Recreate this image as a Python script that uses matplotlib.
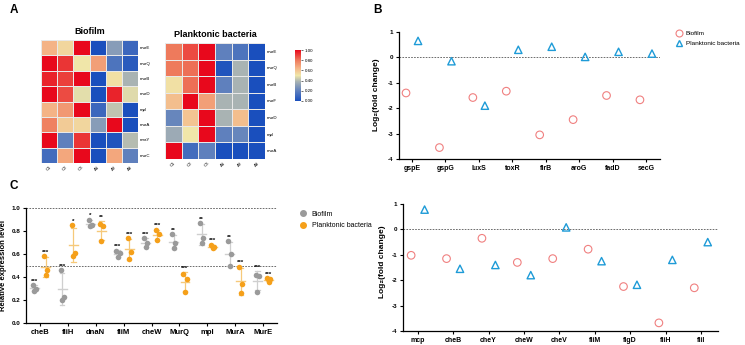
import numpy as np
import matplotlib
matplotlib.use("Agg")
import matplotlib.pyplot as plt
from matplotlib.colors import LinearSegmentedColormap
from matplotlib.lines import Line2D

plt.rcParams['font.family'] = ['Liberation Sans', 'DejaVu Sans']

# ---- panel A: heatmaps ----
hm_cols = ["C1", "C2", "C3", "A1", "A2", "A3"]
bio_rows = ["murE", "murQ", "murB", "murD", "mpl", "murA", "mraY", "murC"]
bio_vals = [
    [0.65, 0.55, 1.00, 0.00, 0.30, 0.10],
    [1.00, 0.92, 0.50, 0.70, 0.15, 0.05],
    [0.95, 0.90, 1.00, 0.00, 0.52, 0.38],
    [1.00, 0.88, 0.48, 0.00, 0.95, 0.47],
    [0.65, 0.72, 1.00, 0.10, 0.42, 0.00],
    [0.78, 0.58, 0.55, 0.30, 1.00, 0.00],
    [1.00, 0.20, 0.92, 0.00, 0.02, 0.40],
    [0.12, 0.68, 1.00, 0.00, 0.68, 0.20],
]
plank_rows = ["murE", "murQ", "murB", "murF", "murD", "mpl", "murA"]
plank_vals = [
    [0.80, 0.88, 1.00, 0.20, 0.15, 0.00],
    [0.80, 0.82, 1.00, 0.02, 0.38, 0.00],
    [0.52, 0.82, 1.00, 0.20, 0.38, 0.00],
    [0.62, 1.00, 0.70, 0.38, 0.38, 0.00],
    [0.22, 0.60, 1.00, 0.38, 0.62, 0.00],
    [0.35, 0.50, 1.00, 0.20, 0.22, 0.00],
    [1.00, 0.12, 0.20, 0.00, 0.00, 0.00],
]

# ---- panel B: log2 fold change ----
b_genes = ["gspE", "gspG", "luxS", "toxR", "flrB", "aroG", "fadD", "secG"]
b_biofilm = [-1.40, -3.55, -1.58, -1.33, -3.05, -2.45, -1.50, -1.67]
b_plank = [0.65, -0.15, -1.90, 0.30, 0.42, 0.02, 0.22, 0.15]

# ---- lower right: log2 fold change ----
d_genes = ["mcp", "cheB", "cheY", "cheW", "cheV", "fliM", "flgD", "fliH", "fliI"]
d_biofilm = [-1.02, -1.15, -0.35, -1.30, -1.15, -0.78, -2.25, -3.68, -2.30]
d_plank = [0.78, -1.55, -1.40, -1.80, 0.08, -1.25, -2.18, -1.20, -0.50]

# ---- panel C: relative expression ----
c_genes = ["cheB", "fliH", "dnaN", "fliM", "cheW", "MurQ", "mpl", "MurA", "MurE"]
c_biofilm = [
    [0.33, 0.30, 0.28], [0.46, 0.23, 0.20], [0.90, 0.85, 0.84],
    [0.63, 0.61, 0.57], [0.74, 0.70, 0.66], [0.77, 0.70, 0.65],
    [0.87, 0.74, 0.70], [0.71, 0.60, 0.50], [0.42, 0.41, 0.27],
]
c_plank = [
    [0.58, 0.46, 0.42], [0.85, 0.61, 0.58], [0.86, 0.84, 0.71],
    [0.74, 0.62, 0.56], [0.81, 0.77, 0.72], [0.43, 0.38, 0.27],
    [0.68, 0.66, 0.65], [0.49, 0.34, 0.26], [0.39, 0.38, 0.36],
]
c_sig_bio = ["***", "***", "*", "***", "***", "**", "**", "**", "***"]
c_sig_plank = ["***", "*", "**", "***", "***", "***", "***", "***", "***"]

W, H = 745, 345
fig = plt.figure(figsize=(W / 100, H / 100), dpi=100)


def px_axes(x0, y0, x1, y1):
    return fig.add_axes([x0 / W, 1 - y1 / H, (x1 - x0) / W, (y1 - y0) / H])


cmap = LinearSegmentedColormap.from_list("hm", [
    (0.0, "#1a4fbd"), (0.2, "#5f80bd"), (0.38, "#a9b3b3"), (0.5, "#f0e7a9"),
    (0.65, "#f4b386"), (0.8, "#ee7a5c"), (1.0, "#e8081c")])


def heatmap(ax, vals, rows, title):
    arr = np.array(vals)
    m = ax.pcolormesh(arr, cmap=cmap, vmin=0, vmax=1, edgecolors="#e8e8e8", linewidth=0.6)
    ax.set_ylim(len(rows), 0)
    ax.set_xlim(0, len(hm_cols))
    ax.yaxis.tick_right()
    ax.set_yticks(np.arange(len(rows)) + 0.5)
    ax.set_yticklabels(rows, fontsize=3.2)
    ax.set_xticks(np.arange(len(hm_cols)) + 0.5)
    ax.set_xticklabels(hm_cols, fontsize=3.2, rotation=45)
    ax.tick_params(length=0, pad=1.5)
    for s in ax.spines.values():
        s.set_visible(False)
    ax.set_title(title, fontsize=6.5, fontweight="bold", pad=4)
    return m


ax_h1 = px_axes(41, 40, 138, 163)
heatmap(ax_h1, bio_vals, bio_rows, "Biofilm")
ax_h2 = px_axes(165, 43, 265, 159)
mesh = heatmap(ax_h2, plank_vals, plank_rows, "Planktonic bacteria")
cax = px_axes(295, 50, 301, 101)
cb = fig.colorbar(mesh, cax=cax, ticks=[0, 0.2, 0.4, 0.6, 0.8, 1.0])
cb.ax.set_yticklabels(["0.00", "0.20", "0.40", "0.60", "0.80", "1.00"], fontsize=3.2)
cb.ax.tick_params(length=1.5, width=0.4, pad=1)
cb.outline.set_visible(False)

red_c = "#f08080"
blue_t = "#1e9bd7"


def fold_panel(ax, genes, bio, plank, off):
    x = np.arange(len(genes))
    ax.scatter(x - off, bio, s=30, facecolors="none", edgecolors=red_c, linewidths=0.8, marker="o", zorder=3)
    ax.scatter(x + off, plank, s=28, facecolors="none", edgecolors=blue_t, linewidths=1.0, marker="^", zorder=3)
    ax.axhline(0, color="#555555", lw=0.6, ls=(0, (2, 1.5)), zorder=1)
    ax.set_ylim(-4, 1)
    ax.set_yticks([1, 0, -1, -2, -3, -4])
    ax.set_yticklabels(["1", "0", "-1", "-2", "-3", "-4"], fontsize=4.5, fontweight="bold")
    ax.set_xticks(x)
    ax.set_xticklabels(genes, fontsize=5, fontweight="bold")
    ax.tick_params(length=2.5, width=0.8, pad=1.5)
    for s in ["top", "right"]:
        ax.spines[s].set_visible(False)
    for s in ["left", "bottom"]:
        ax.spines[s].set_linewidth(0.9)


ax_b = px_axes(399, 32, 660, 159)
fold_panel(ax_b, b_genes, b_biofilm, b_plank, 0.18)
ax_b.set_xlim(-0.39, 7.42)
fig.text(376 / W, 1 - 95 / H, "Log\u2082(fold change)", rotation=90, fontsize=6, fontweight="bold",
         ha="center", va="center")
ax_b.legend(handles=[
    Line2D([], [], ls="none", marker="o", mfc="none", mec=red_c, ms=5, mew=0.8, label="Biofilm"),
    Line2D([], [], ls="none", marker="^", mfc="none", mec=blue_t, ms=5, mew=1.0, label="Planktonic bacteria")],
    loc="upper left", bbox_to_anchor=(674 / W, 1 - 31 / H), bbox_transform=fig.transFigure,
    frameon=False, fontsize=4.6, handletextpad=0.3, handlelength=1.5, labelspacing=0.6, borderaxespad=0,
    borderpad=0)

ax_d = px_axes(403, 204, 718, 331)
fold_panel(ax_d, d_genes, d_biofilm, d_plank, 0.19)
ax_d.set_xlim(-0.42, 8.48)
fig.text(383 / W, 1 - 262 / H, "Log\u2082(fold change)", rotation=90, fontsize=6, fontweight="bold",
         ha="center", va="center")

# ---- panel C ----
gray_p = "#9a9a9a"
gray_l = "#cfcfcf"
orng_p = "#f5a01a"
orng_l = "#f6c97a"
ax_c = px_axes(26, 208, 277, 323)
spread = [-0.055, 0.055, 0.0]
for i in range(len(c_genes)):
    for vals, off, pc, lc, sig in [(c_biofilm[i], -0.2, gray_p, gray_l, c_sig_bio[i]),
                                   (c_plank[i], 0.2, orng_p, orng_l, c_sig_plank[i])]:
        v = np.array(vals)
        mu, sd = v.mean(), v.std(ddof=1)
        xc = i + off
        ax_c.plot([xc, xc], [mu - sd, mu + sd], color=lc, lw=0.9, zorder=2)
        ax_c.plot([xc - 0.08, xc + 0.08], [mu - sd] * 2, color=lc, lw=0.9, zorder=2)
        ax_c.plot([xc - 0.08, xc + 0.08], [mu + sd] * 2, color=lc, lw=0.9, zorder=2)
        ax_c.plot([xc - 0.16, xc + 0.16], [mu] * 2, color=lc, lw=1.0, zorder=2)
        ax_c.scatter(xc + np.array(spread), v, s=16, color=pc, zorder=3, linewidths=0)
        top = max(v.max(), mu + sd) + 0.012
        ax_c.text(xc, top, sig, ha="center", va="bottom", fontsize=4.5, fontweight="bold", clip_on=False)
ax_c.axhline(1.0, color="#555555", lw=0.6, ls=(0, (2, 1.5)), zorder=1)
ax_c.axhline(0.5, color="#555555", lw=0.6, ls=(0, (2, 1.5)), zorder=1)
ax_c.set_xlim(-0.5, 8.5)
ax_c.set_ylim(0, 1.0)
ax_c.set_yticks([0, 0.2, 0.4, 0.6, 0.8, 1.0])
ax_c.set_yticklabels(["0.0", "0.2", "0.4", "0.6", "0.8", "1.0"], fontsize=4.5, fontweight="bold")
ax_c.set_xticks(range(len(c_genes)))
ax_c.set_xticklabels(c_genes, fontsize=5.5, fontweight="bold")
ax_c.tick_params(length=2.5, width=0.8, pad=1.5)
for s in ["top", "right"]:
    ax_c.spines[s].set_visible(False)
for s in ["left", "bottom"]:
    ax_c.spines[s].set_linewidth(0.9)
ax_c.set_ylabel("Relative expression level", fontsize=5.5, fontweight="bold", labelpad=3)
ax_c.legend(handles=[
    Line2D([], [], ls="none", marker="o", color=gray_p, ms=4, label="Biofilm"),
    Line2D([], [], ls="none", marker="o", color=orng_p, ms=4, label="Planktonic bacteria")],
    loc="upper left", bbox_to_anchor=(293 / W, 1 - 208 / H), bbox_transform=fig.transFigure,
    frameon=False, fontsize=5, handletextpad=0.3, labelspacing=0.6, borderaxespad=0)

# panel letters
for lbl, x, y in [("A", 14, 10), ("B", 377, 10), ("C", 14, 186)]:
    fig.text(x / W, 1 - y / H, lbl, fontsize=8.5, fontweight="bold", ha="center", va="center")

fig.savefig("out.png", dpi=100)
